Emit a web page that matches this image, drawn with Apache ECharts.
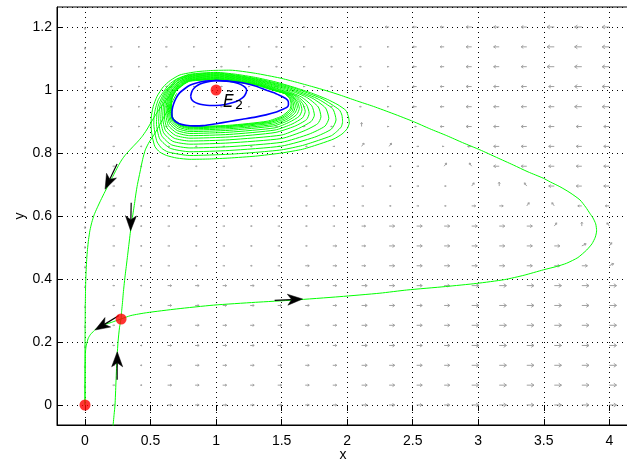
<!DOCTYPE html>
<html><head><meta charset="utf-8">
<script src="https://cdn.jsdelivr.net/npm/echarts@6/dist/echarts.min.js"></script>
<style>html,body{margin:0;padding:0;background:#fff}#c{width:627px;height:462px}</style>
</head><body><div id="c"></div>
<script>
// ---------- data ----------
const fieldX = [0,0.21,0.42,0.63,0.84,1.05,1.26,1.47,1.68,1.89,2.11,2.32,2.53,2.74,2.95,3.16,3.37,3.58,3.79,4.0];
const fieldY = [0,0.063,0.126,0.189,0.253,0.316,0.379,0.442,0.505,0.568,0.632,0.695,0.758,0.821,0.884,0.947,1.011,1.074,1.137,1.2];
// direction field, one string per row, top row (y=1.2) first
const fieldRows = [
 "d,,,,,,,,,,lllLLLKKK",
 "d,,,,,,,,,,,llLLLKKK",
 "d,,,,,,,,,,,llLLLKKK",
 "d,,,,,,,,,,,llLLLLKK",
 "d,,,,,,,,,,,llLLLLKK",
 "d,,,,,,,,,u,,lLLLLLL",
 "d.........nn.,lLLLLL",
 "d............nwLLLLL",
 "d.............nuwLLL",
 "d.............rrnwll",
 "d.........rRRRRRRnuw",
 "d........rrRRRRRRRen",
 "d.......rrrRRRRRRRRe",
 "d..rrrrrrrRRRRMMMMMM",
 "d..rrrrrrrRRRRMMMMMM",
 "d..rrrrrrrRRRRMMMMMM",
 "d..rrrrrrrRRRRMMMMMM",
 "d..rrrrrrrRRRRMMMMMM",
 "d..rrrrrrrRRRRMMMMMM",
 "o..rrrrrrrRRRRMMMMMM"
];
// char -> [east, north, relative magnitude]
const fieldCodes = {'o':[0,0,0],'d':[0,-1,0.3],'.':[1,0,0.25],',':[-1,0,0.25],'r':[1,0,0.5],'R':[1,0,0.7],'M':[1,0,0.9],
 'l':[-1,0,0.5],'L':[-1,0,0.7],'K':[-1,0,0.9],'n':[0.6,0.8,0.5],'u':[0,1,0.5],'w':[-0.6,0.8,0.5],'e':[0.9,0.45,0.6]};

const equilibria = [[0,0],[0.275,0.273],[1.0,1.0]];

const trajA = [[0.213,-0.07],[0.222,-0.03],[0.229,0],[0.236,0.07],[0.243,0.14],[0.252,0.2],[0.263,0.245],[0.275,0.273]];
const trajB = [[0.70,0.99],[0.65,0.95],[0.61,0.92],[0.57,0.89],[0.53,0.86],[0.49,0.835],[0.46,0.81],[0.44,0.78],[0.42,0.74],[0.40,0.70],[0.388,0.67],[0.378,0.64],[0.367,0.61],[0.356,0.58],[0.345,0.545],[0.335,0.51],[0.325,0.475],[0.315,0.44],[0.306,0.41],[0.298,0.38],[0.292,0.355],[0.286,0.325],[0.28,0.3],[0.275,0.273]];
const trajC = [[0.66,0.99],[0.61,0.963],[0.56,0.935],[0.515,0.905],[0.47,0.873],[0.435,0.852],[0.40,0.835],[0.37,0.822],[0.343,0.81],[0.31,0.795],[0.28,0.778],[0.255,0.76],[0.23,0.74],[0.208,0.722],[0.186,0.704],[0.152,0.677],[0.12,0.65],[0.093,0.626],[0.07,0.604],[0.052,0.58],[0.038,0.555],[0.027,0.525],[0.019,0.494],[0.013,0.462],[0.009,0.43],[0.006,0.4],[0.004,0.365],[0.002,0.31],[0.001,0.25],[0,0.175],[0,0.1],[0,0]];
const trajE = [[0.275,0.273],[0.24,0.268],[0.2,0.262],[0.155,0.256],[0.114,0.249],[0.085,0.242],[0.06,0.232],[0.04,0.223],[0.025,0.212],[0.016,0.2],[0.01,0.19],[0.005,0.175],[0.003,0.16],[0.001,0.1],[0,0.05],[0,0]];
const trajD = [[0.275,0.273],[0.35,0.284],[0.47,0.293],[0.7,0.305],[0.979,0.317],[1.3,0.326],[1.589,0.333],[1.945,0.344],[2.25,0.355],[2.454,0.365],[2.75,0.376],[2.988,0.386],[3.2,0.398],[3.35,0.412],[3.496,0.429],[3.6,0.44],[3.674,0.45],[3.76,0.468],[3.827,0.492],[3.868,0.512],[3.893,0.533],[3.903,0.553],[3.896,0.575],[3.875,0.594],[3.852,0.608],[3.82,0.628],[3.776,0.651],[3.7,0.674],[3.623,0.693],[3.55,0.708],[3.496,0.72],[3.38,0.74],[3.267,0.762],[3.14,0.786],[3.013,0.81],[2.88,0.833],[2.76,0.855],[2.63,0.877],[2.504,0.9],[2.35,0.925],[2.2,0.948],[2.07,0.966],[1.945,0.984],[1.84,0.998],[1.741,1.01],[1.61,1.025],[1.487,1.038],[1.3,1.053],[1.106,1.063],[0.97,1.062],[0.852,1.058],[0.725,1.048],[0.65,1.03],[0.597,1.01],[0.55,0.98],[0.52,0.947],[0.505,0.91],[0.505,0.88],[0.514,0.85],[0.534,0.82],[0.57,0.803],[0.623,0.792],[0.7,0.784],[0.8,0.78],[0.95,0.781],[1.1,0.784],[1.3,0.79],[1.5,0.8],[1.66,0.812],[1.8,0.83],[1.9,0.845],[1.96,0.86],[2.0,0.877],[2.016,0.895],[2.01,0.915],[1.99,0.935],[1.93,0.953],[1.85,0.97],[1.73,0.99],[1.6,1.008],[1.45,1.026],[1.3,1.04],
 [1.15,1.05],[1.0,1.056],[0.8,1.05],[0.7,1.035],[0.64,1.017],[0.6,0.995],[0.56,0.97],[0.54,0.945],[0.527,0.918],[0.525,0.89],[0.535,0.86],[0.55,0.835],[0.585,0.815],[0.635,0.803],[0.8,0.792],[1.1,0.796],[1.3,0.802],[1.5,0.81],[1.66,0.824],[1.78,0.84],[1.88,0.855],[1.92,0.868],[1.955,0.883],[1.965,0.9],[1.96,0.92],[1.94,0.937],[1.81,0.972],[1.58,1.008],[1.3,1.037],
 [1.0,1.054],[0.8,1.048],[0.7,1.033],[0.61,0.995],[0.557,0.948],[0.545,0.895],[0.57,0.845],[0.65,0.815],[0.8,0.804],[1.1,0.808],[1.5,0.822],[1.75,0.85],[1.88,0.876],[1.915,0.905],[1.89,0.94],[1.77,0.973],[1.56,1.007],[1.3,1.035],
 [1.0,1.052],[0.8,1.046],[0.71,1.032],[0.62,0.996],[0.572,0.95],[0.562,0.9],[0.585,0.855],[0.66,0.826],[0.8,0.816],[1.1,0.82],[1.5,0.834],[1.71,0.86],[1.83,0.885],[1.86,0.91],[1.835,0.943],[1.73,0.975],[1.54,1.006],[1.3,1.033],
 [1.0,1.05],[0.8,1.044],[0.71,1.03],[0.63,0.997],[0.587,0.953],[0.578,0.905],[0.6,0.864],[0.67,0.837],[0.8,0.828],[1.1,0.832],[1.5,0.846],[1.67,0.87],[1.775,0.893],[1.80,0.915],[1.78,0.946],[1.69,0.977],[1.52,1.005],[1.3,1.031],
 [1.0,1.048],[0.8,1.042],[0.72,1.028],[0.64,0.998],[0.6,0.955],[0.593,0.91],[0.613,0.872],[0.68,0.847],[0.8,0.838],[1.1,0.842],[1.5,0.857],[1.63,0.878],[1.725,0.9],[1.75,0.92],[1.73,0.95],[1.65,0.978],[1.5,1.004],[1.3,1.029],
 [1.0,1.046],[0.8,1.04],[0.72,1.026],[0.65,0.998],[0.612,0.958],[0.606,0.915],[0.625,0.88],[0.69,0.856],[0.8,0.847],[1.1,0.851],[1.45,0.865],[1.6,0.885],[1.69,0.906],[1.71,0.926],[1.69,0.953],[1.62,0.98],[1.48,1.003],[1.3,1.027],
 [1.0,1.044],[0.8,1.038],[0.73,1.025],[0.66,0.998],[0.623,0.96],[0.618,0.92],[0.636,0.887],[0.7,0.864],[0.8,0.855],[1.1,0.859],[1.45,0.873],[1.58,0.892],[1.66,0.912],[1.68,0.932],[1.66,0.957],[1.6,0.982],[1.47,1.002],[1.3,1.025],
 [1.0,1.042],[0.8,1.036],[0.73,1.023],[0.665,0.998],[0.632,0.962],[0.628,0.925],[0.645,0.893],[0.705,0.871],[0.8,0.862],[1.1,0.866],[1.45,0.88],[1.56,0.898],[1.635,0.917],[1.655,0.937],[1.64,0.96],[1.58,0.983],[1.46,1.001],[1.3,1.023],
 [1.0,1.04],[0.8,1.034],[0.735,1.021],[0.672,0.997],[0.64,0.963],[0.637,0.928],[0.652,0.898],[0.71,0.877],[0.8,0.868],[1.1,0.872],[1.44,0.886],[1.55,0.903],[1.615,0.922],[1.635,0.942],[1.62,0.963],[1.565,0.984],[1.45,1.0],[1.3,1.021],
 [1.0,1.038],[0.8,1.032],[0.74,1.02],[0.678,0.996],[0.647,0.964],[0.645,0.93],[0.659,0.902],[0.715,0.882],[0.8,0.873],[1.1,0.877],[1.43,0.89],[1.54,0.907],[1.6,0.926],[1.62,0.946],[1.605,0.966],[1.555,0.985],[1.445,1.0],[1.3,1.02],
 [1.0,1.036],[0.8,1.031],[0.745,1.019],[0.683,0.995],[0.654,0.965],[0.652,0.932],[0.665,0.905],[0.72,0.886],[0.8,0.877],[1.1,0.881],[1.42,0.894],[1.53,0.91],[1.59,0.93],[1.605,0.95],[1.59,0.968],[1.545,0.986],[1.44,1.0],[1.3,1.019],
 [1.0,1.035],[0.8,1.03],[0.748,1.018],[0.686,0.995],[0.657,0.966],[0.656,0.934],[0.668,0.907],[0.722,0.888],[0.8,0.88],[1.1,0.884],[1.41,0.897],[1.52,0.913],[1.58,0.933],[1.592,0.952],[1.578,0.97],[1.535,0.987],[1.435,1.0],[1.3,1.018],
 [1.0,1.034],[0.8,1.029],[0.75,1.018],[0.689,0.995],[0.66,0.967],[0.659,0.936],[0.67,0.909],[0.724,0.89],[0.8,0.882],[1.1,0.886],[1.4,0.899],[1.51,0.915],[1.57,0.936],[1.58,0.954],[1.567,0.972],[1.528,0.988],[1.43,1.0],[1.3,1.017],
 [1.0,1.033],[0.8,1.028],[0.752,1.017],[0.691,0.995],[0.662,0.968],[0.661,0.937],[0.672,0.911],[0.726,0.892],[0.8,0.884],[1.1,0.888],[1.39,0.901],[1.5,0.917],[1.562,0.938],[1.572,0.956],[1.56,0.973],[1.52,0.989],[1.43,1.0],[1.3,1.016],[1.0,1.032]];
const blueInner = [[0.806,0.981],[0.815,0.995],[0.83,1.005],[0.86,1.015],[0.9,1.022],[0.95,1.027],[1.0,1.03],[1.05,1.029],[1.1,1.027],[1.15,1.023],[1.19,1.017],[1.22,1.009],[1.233,1.0],[1.228,0.99],[1.21,0.978],[1.175,0.968],[1.13,0.96],[1.07,0.954],[1.0,0.951],[0.95,0.951],[0.9,0.953],[0.86,0.957],[0.83,0.963],[0.812,0.971],[0.806,0.981]];
const blueOuter = [[1.0,1.03],[1.1,1.028],[1.2,1.023],[1.3,1.013],[1.38,1.0],[1.45,0.99],[1.5,0.98],[1.535,0.972],[1.551,0.963],[1.552,0.953],[1.54,0.945],[1.5,0.937],[1.46,0.93],[1.38,0.921],[1.3,0.914],[1.2,0.907],[1.1,0.9],[1.0,0.893],[0.9,0.887],[0.83,0.886],[0.77,0.888],[0.72,0.893],[0.69,0.9],[0.67,0.909],[0.663,0.92],[0.665,0.938],[0.675,0.955],[0.695,0.974],[0.72,0.99],[0.76,1.004],[0.8,1.015],[0.85,1.022],[0.9,1.027],[0.95,1.029],[1.0,1.03]];
// black arrows: tip x, tip y, direction dx, dy (data units)
const flowArrows = [[1.66,0.3365,1,0.02],[0.246,0.169,0.01,1],[0.076,0.238,-1,-0.25],[0.153,0.685,-0.8,-0.7],[0.348,0.553,-0.05,-1]];
const labelE2 = {at:[1.0,1.0], main:'Ẽ', sub:'2'};

// ---------- build ----------
const fieldData = [];
fieldRows.forEach((row, r) => {
  const y = fieldY[fieldY.length - 1 - r];
  for (let i = 0; i < fieldX.length; i++) {
    const c = fieldCodes[row[i]] || [0,0,0];
    fieldData.push([fieldX[i], y, c[0], c[1], c[2]]);
  }
});

const chart = echarts.init(document.getElementById('c'), null, {renderer:'canvas'});
const XMIN = -0.2136, XMAX = 4.150, YMIN = -0.0635, YMAX = 1.2635;
const FONT = 'Liberation Sans';
const fmt = step => v => { const k = v / step; return Math.abs(k - Math.round(k)) < 1e-6 ? String(+v.toFixed(2)) : ''; };
const gridLine = {show:true, lineStyle:{color:'#000', width:1, type:[1,4]}};
function lineSeries(data, color, width, z) {
  return {type:'line', data, showSymbol:false, smooth:0.2, clip:true, silent:true, z,
    lineStyle:{color, width}, itemStyle:{color}};
}
const UNIT = 8;
chart.setOption({
  animation:false,
  grid:{left:57, right:-2, top:7, bottom:37, show:true, borderColor:'#000', borderWidth:1, containLabel:false, outerBoundsMode:'none'},
  xAxis:[{type:'value', min:XMIN, max:XMAX, splitNumber:9,
    axisLine:{show:true, onZero:false, lineStyle:{color:'#000', width:1}},
    axisTick:{show:true, inside:true, length:6, lineStyle:{color:'#000'}},
    axisLabel:{color:'#000', fontFamily:FONT, fontSize:14, margin:9, formatter:fmt(0.5), showMinLabel:false, showMaxLabel:false},
    splitLine:gridLine, name:'x', nameLocation:'middle', nameGap:23, nameMoveOverlap:false, nameTextStyle:{color:'#000', fontFamily:FONT, fontSize:14}},
   {type:'value', position:'top', min:XMIN, max:XMAX, splitNumber:9,
    axisLine:{show:false}, axisTick:{show:true, inside:true, length:6, lineStyle:{color:'#000'}},
    axisLabel:{show:false}, splitLine:{show:false}}],
  yAxis:[{type:'value', min:YMIN, max:YMAX, splitNumber:7,
    axisLine:{show:true, onZero:false, lineStyle:{color:'#000', width:1}},
    axisTick:{show:true, inside:true, length:6, lineStyle:{color:'#000'}},
    axisLabel:{color:'#000', fontFamily:FONT, fontSize:14, margin:5, formatter:fmt(0.2), showMinLabel:false, showMaxLabel:false},
    splitLine:gridLine, name:'y', nameLocation:'middle', nameGap:30, nameRotate:90, nameMoveOverlap:false, nameTextStyle:{color:'#000', fontFamily:FONT, fontSize:14}}],
  series:[
    {type:'custom', data:fieldData, silent:true, z:1, clip:true,
     renderItem:(params, api) => {
       const m = api.value(4); if (!m) return null;
       const p = api.coord([api.value(0), api.value(1)]);
       let ux = api.value(2), uy = -api.value(3); const n = Math.hypot(ux, uy); ux/=n; uy/=n;
       const L = m * UNIT; const t = [p[0]+ux*L, p[1]+uy*L];
       const hb = L*0.38, hw = L*0.26;
       const st = {stroke:'#a0a0a0', lineWidth:1, fill:null};
       return {type:'group', children:[
         {type:'polyline', shape:{points:[p, t]}, style:st},
         {type:'polyline', shape:{points:[[t[0]-ux*hb-uy*hw, t[1]-uy*hb+ux*hw], t, [t[0]-ux*hb+uy*hw, t[1]-uy*hb-ux*hw]]}, style:st}]};
     }},
    lineSeries(trajA, '#00ff00', 1, 3),
    lineSeries(trajB, '#00ff00', 1, 3),
    lineSeries(trajC, '#00ff00', 1, 3),
    lineSeries(trajE, '#00ff00', 1, 3),
    lineSeries(trajD, '#00ff00', 1, 3),
    lineSeries(blueOuter, '#0000ff', 1.6, 4),
    lineSeries(blueInner, '#0000ff', 1.6, 4),
    {type:'custom', data:flowArrows, silent:true, z:6,
     renderItem:(params, api) => {
       const tx = api.value(0), ty = api.value(1), dx = api.value(2), dy = api.value(3);
       const p = api.coord([tx, ty]); const q = api.coord([tx - dx*0.01, ty - dy*0.01]);
       let bx = q[0]-p[0], by = q[1]-p[1]; const n = Math.hypot(bx, by); bx/=n; by/=n;
       const px = -by, py = bx;
       const head = 15, half = 5.5, notch = 11, stem = 28;
       return {type:'group', children:[
         {type:'line', shape:{x1:p[0]+bx*notch, y1:p[1]+by*notch, x2:p[0]+bx*stem, y2:p[1]+by*stem}, style:{stroke:'#000', lineWidth:1.2}},
         {type:'polygon', shape:{points:[p, [p[0]+bx*head+px*half, p[1]+by*head+py*half], [p[0]+bx*notch, p[1]+by*notch], [p[0]+bx*head-px*half, p[1]+by*head-py*half]]}, style:{fill:'#000', stroke:'#000', lineWidth:0.5}}]};
     }},
    {type:'scatter', data:equilibria, symbol:'circle', symbolSize:11, z:8, silent:true, itemStyle:{color:'#ff0000', borderWidth:0}}
  ]
});
const pe = chart.convertToPixel({gridIndex:0}, labelE2.at);
chart.setOption({graphic:[
  {type:'text', x:pe[0]+7, y:pe[1]+13, z:20, style:{text:labelE2.main, font:'italic 17px "DejaVu Sans"', fill:'#000', verticalAlign:'middle', align:'left'}},
  {type:'text', x:pe[0]+19, y:pe[1]+16, z:20, style:{text:labelE2.sub, font:'13px "DejaVu Sans"', fill:'#000', verticalAlign:'middle', align:'left'}}
]});
</script></body></html>
